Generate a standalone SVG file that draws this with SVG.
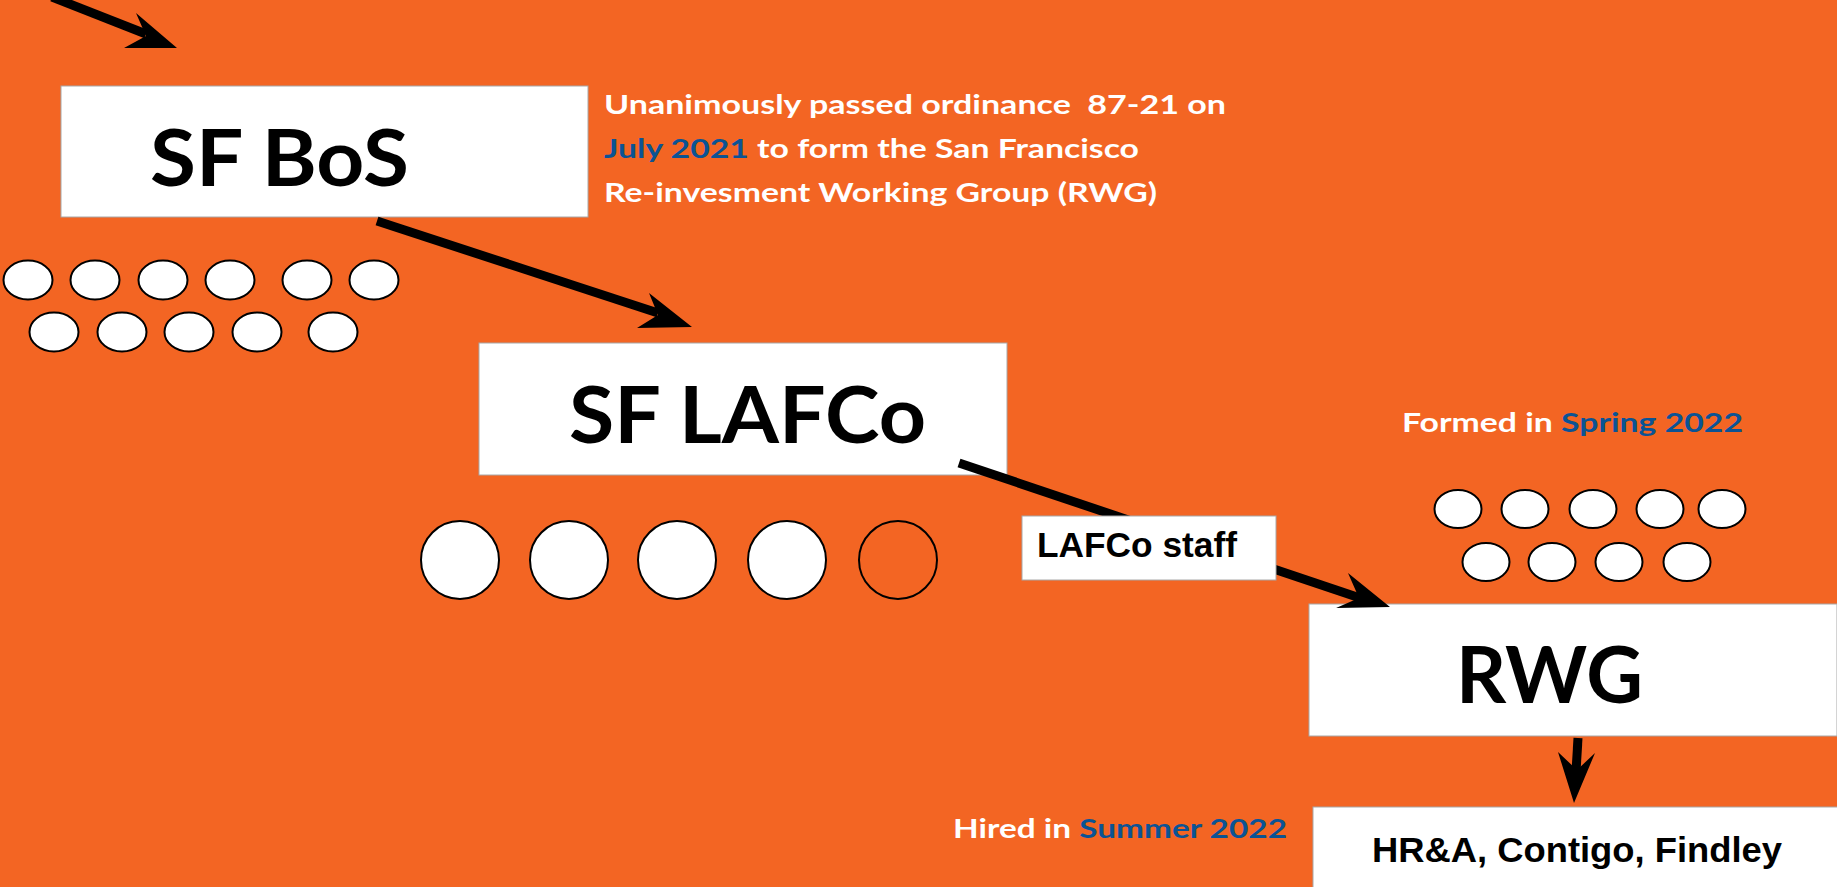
<svg xmlns="http://www.w3.org/2000/svg" width="1837" height="887" viewBox="0 0 1837 887">
  <style>
    .box { fill: #ffffff; stroke: #a8a8a8; stroke-width: 1; }
    .title { font-family: "Lato", "Open Sans", sans-serif; font-weight: 700; font-size: 79px; fill: #000000; }
    .label { font-family: "Liberation Sans", Arial, sans-serif; font-weight: 700; font-size: 35px; fill: #000000; }
    .note { font-family: "Lato", "Open Sans", sans-serif; font-weight: 700; font-size: 27px; fill: #ffffff; }
    .hl { fill: #0b5394; }
    .wire { stroke: #000000; stroke-width: 9; fill: none; }
    .head { fill: #000000; }
    .seat { fill: #ffffff; stroke: #000000; stroke-width: 2; }
    .seat-open { fill: none; stroke: #000000; stroke-width: 2; }
  </style>

  <!-- background -->
  <rect x="0" y="0" width="1837" height="887" fill="#f36523"/>

  <!-- SF Board of Supervisors -->
  <g id="sf-bos">
    <rect class="box" x="61" y="86" width="527" height="131"/>
    <text class="title" x="150" y="186" textLength="259" lengthAdjust="spacingAndGlyphs">SF BoS</text>
  </g>

  <g id="bos-members">
    <ellipse class="seat" cx="28" cy="280" rx="24.5" ry="19.5"/>
    <ellipse class="seat" cx="95" cy="280" rx="24.5" ry="19.5"/>
    <ellipse class="seat" cx="163" cy="280" rx="24.5" ry="19.5"/>
    <ellipse class="seat" cx="230" cy="280" rx="24.5" ry="19.5"/>
    <ellipse class="seat" cx="307" cy="280" rx="24.5" ry="19.5"/>
    <ellipse class="seat" cx="374" cy="280" rx="24.5" ry="19.5"/>
    <ellipse class="seat" cx="54" cy="332" rx="24.5" ry="19.5"/>
    <ellipse class="seat" cx="122" cy="332" rx="24.5" ry="19.5"/>
    <ellipse class="seat" cx="189" cy="332" rx="24.5" ry="19.5"/>
    <ellipse class="seat" cx="257" cy="332" rx="24.5" ry="19.5"/>
    <ellipse class="seat" cx="333" cy="332" rx="24.5" ry="19.5"/>
  </g>

  <g id="bos-note">
    <text class="note" x="604" y="114" textLength="622" lengthAdjust="spacingAndGlyphs" xml:space="preserve">Unanimously passed ordinance  87-21 on</text>
    <text class="note" x="604" y="158" textLength="535" lengthAdjust="spacingAndGlyphs"><tspan class="hl">July 2021</tspan> to form the San Francisco</text>
    <text class="note" x="604" y="202" textLength="553" lengthAdjust="spacingAndGlyphs">Re-invesment Working Group (RWG)</text>
  </g>

  <!-- SF LAFCo -->
  <g id="sf-lafco">
    <rect class="box" x="479" y="343" width="528" height="132"/>
    <text class="title" x="569" y="443" textLength="357" lengthAdjust="spacingAndGlyphs">SF LAFCo</text>
  </g>

  <g id="lafco-members">
    <circle class="seat" cx="460" cy="560" r="39"/>
    <circle class="seat" cx="569" cy="560" r="39"/>
    <circle class="seat" cx="677" cy="560" r="39"/>
    <circle class="seat" cx="787" cy="560" r="39"/>
    <circle class="seat-open" cx="898" cy="560" r="39"/>
  </g>

  <!-- RWG -->
  <g id="rwg-note">
    <text class="note" x="1402" y="432" textLength="341" lengthAdjust="spacingAndGlyphs">Formed in <tspan class="hl">Spring 2022</tspan></text>
  </g>

  <g id="rwg-members">
    <ellipse class="seat" cx="1458" cy="509" rx="23.5" ry="19"/>
    <ellipse class="seat" cx="1525" cy="509" rx="23.5" ry="19"/>
    <ellipse class="seat" cx="1593" cy="509" rx="23.5" ry="19"/>
    <ellipse class="seat" cx="1660" cy="509" rx="23.5" ry="19"/>
    <ellipse class="seat" cx="1722" cy="509" rx="23.5" ry="19"/>
    <ellipse class="seat" cx="1486" cy="562" rx="23.5" ry="19"/>
    <ellipse class="seat" cx="1552" cy="562" rx="23.5" ry="19"/>
    <ellipse class="seat" cx="1619" cy="562" rx="23.5" ry="19"/>
    <ellipse class="seat" cx="1687" cy="562" rx="23.5" ry="19"/>
  </g>

  <g id="rwg">
    <rect class="box" x="1309" y="604" width="528" height="132"/>
    <text class="title" x="1456" y="703" textLength="187" lengthAdjust="spacingAndGlyphs">RWG</text>
  </g>

  <!-- consultants -->
  <g id="consultants-note">
    <text class="note" x="953" y="838" textLength="334" lengthAdjust="spacingAndGlyphs">Hired in <tspan class="hl">Summer 2022</tspan></text>
  </g>

  <g id="consultants">
    <rect class="box" x="1313" y="807" width="530" height="90"/>
    <text class="label" x="1372" y="862" textLength="410" lengthAdjust="spacingAndGlyphs">HR&amp;A, Contigo, Findley</text>
  </g>

  <!-- connectors (drawn over the boxes, under the staff label) -->
  <g id="connectors">
    <line class="wire" x1="52" y1="-3" x2="146" y2="34"/>
    <polygon class="head" points="177,48 136,13 146,36 124,48"/>

    <line class="wire" x1="377" y1="221" x2="658" y2="313"/>
    <polygon class="head" points="692,327 649,293 658,315 637,328"/>

    <line class="wire" x1="959" y1="463" x2="1360" y2="598"/>
    <polygon class="head" points="1390,607 1348,573 1359,598 1336,608"/>

    <line class="wire" stroke-width="8" x1="1578" y1="738" x2="1576" y2="772"/>
    <polygon class="head" points="1574,803 1558,752 1577,770 1595,753"/>
  </g>

  <!-- LAFCo staff label -->
  <g id="lafco-staff">
    <rect class="box" x="1022" y="516" width="254" height="64"/>
    <text class="label" x="1037" y="557" textLength="200" lengthAdjust="spacingAndGlyphs">LAFCo staff</text>
  </g>
</svg>
